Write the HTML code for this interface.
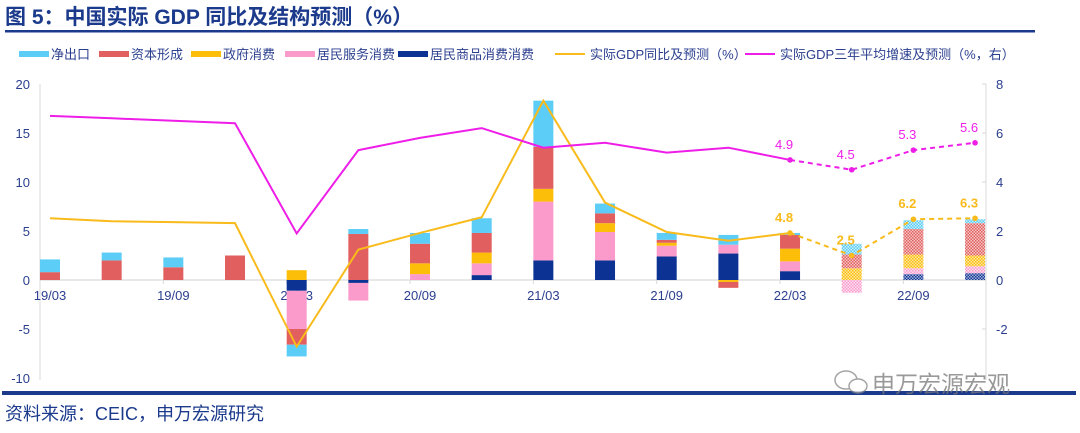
<!DOCTYPE html>
<html><head><meta charset="utf-8">
<style>
body{margin:0;background:#fff;width:1080px;height:433px;overflow:hidden;font-family:"Liberation Sans","Noto Sans CJK SC",sans-serif}
svg{display:block}
</style></head>
<body>
<svg id="chart" width="1080" height="433" xmlns="http://www.w3.org/2000/svg" font-family="Liberation Sans, Noto Sans CJK SC, sans-serif">
<defs>
<pattern id="h-cyan" width="3" height="3" patternUnits="userSpaceOnUse"><rect width="3" height="3" fill="#c8eefc"/><rect width="1.5" height="1.5" fill="#5ccdf5"/><rect x="1.5" y="1.5" width="1.5" height="1.5" fill="#5ccdf5"/></pattern>
<pattern id="h-red" width="3" height="3" patternUnits="userSpaceOnUse"><rect width="3" height="3" fill="#f6c6c6"/><rect width="1.5" height="1.5" fill="#e06060"/><rect x="1.5" y="1.5" width="1.5" height="1.5" fill="#e06060"/></pattern>
<pattern id="h-yellow" width="3" height="3" patternUnits="userSpaceOnUse"><rect width="3" height="3" fill="#fde7a0"/><rect width="1.5" height="1.5" fill="#fbbf10"/><rect x="1.5" y="1.5" width="1.5" height="1.5" fill="#fbbf10"/></pattern>
<pattern id="h-pink" width="3" height="3" patternUnits="userSpaceOnUse"><rect width="3" height="3" fill="#fde0ef"/><rect width="1.5" height="1.5" fill="#f99ccc"/><rect x="1.5" y="1.5" width="1.5" height="1.5" fill="#f99ccc"/></pattern>
<pattern id="h-navy" width="3" height="3" patternUnits="userSpaceOnUse"><rect width="3" height="3" fill="#9fb0d8"/><rect width="1.5" height="1.5" fill="#1a3a94"/><rect x="1.5" y="1.5" width="1.5" height="1.5" fill="#1a3a94"/></pattern>
</defs>
<text x="5" y="24" font-size="21" font-weight="bold" fill="#1b3a8c">图 5：中国实际 GDP 同比及结构预测（%）</text>
<rect x="5" y="30" width="1030" height="2.5" fill="#1b3a8c"/>
<g id="legend" font-size="13" fill="#2b3f8f"></g>
<g id="axes"></g>
<g id="bars"></g>
<g id="lines"></g>
<rect x="2" y="391" width="1074" height="4" fill="#1b3a8c"/>
<g opacity="0.75">
<ellipse cx="846" cy="380" rx="11" ry="9" fill="none" stroke="#888" stroke-width="1.5"/>
<ellipse cx="858" cy="386" rx="9" ry="7" fill="#fff" stroke="#888" stroke-width="1.5"/>
<text x="872" y="392" font-size="23" fill="#777">申万宏源宏观</text>
</g>
<text x="5" y="420" font-size="18" fill="#1b3a8c">资料来源：CEIC，申万宏源研究</text>
</svg>
<script>
const categories=["19/03","19/06","19/09","19/12","20/03","20/06","20/09","20/12","21/03","21/06","21/09","21/12","22/03","22/06","22/09","22/12"];
const tickCats=["19/03","19/09","20/03","20/09","21/03","21/09","22/03","22/09"];
const navy  =[0,0,0,0,-1.1,-0.3,0,0.5,2.0,2.0,2.4,2.7,0.9,0,0.6,0.7];
const pink  =[0,0,0,0,-3.9,-1.8,0.6,1.2,6.0,2.9,1.1,0.9,1.0,-1.3,0.6,0.7];
const gov   =[0,0,0,0,1.0,0,1.1,1.1,1.3,0.9,0.3,-0.2,1.3,1.2,1.4,1.1];
const capital=[0.8,2.0,1.3,2.5,-1.6,4.7,2.0,2.0,4.3,1.0,0.3,-0.6,1.4,1.4,2.6,3.3];
const netExport=[1.3,0.8,1.0,0,-1.2,0.5,1.1,1.5,4.7,1.0,0.7,1.0,0.2,1.1,0.9,0.4];
const gdpYoy=[6.3,6.0,5.9,5.8,-6.8,3.1,4.8,6.4,18.3,7.9,4.9,4.0,4.8,2.5,6.2,6.3];
const gdp3y=[6.7,6.6,6.5,6.4,1.9,5.3,5.8,6.2,5.4,5.6,5.2,5.4,4.9,4.5,5.3,5.6];
const leftTicks=[20,15,10,5,0,-5,-10];
const rightTicks=[8,6,4,2,0,-2];
const forecastStart=12;
const hatchStart=13;

const NS="http://www.w3.org/2000/svg";
const X0=50,STEP=61.67,BW=20;
const yL=v=>280-v*9.8;
const yR=v=>280-v*24.5;
const xC=i=>X0+i*STEP;
function mk(tag,attrs,parent){const e=document.createElementNS(NS,tag);for(const k in attrs)e.setAttribute(k,attrs[k]);parent.appendChild(e);return e;}
const axes=document.getElementById('axes'),bars=document.getElementById('bars'),lines=document.getElementById('lines'),legend=document.getElementById('legend');

let a=mk('line',{x1:40,y1:84,x2:40,y2:380,stroke:'#d9d9d9'},axes);

a=mk('line',{x1:986,y1:84,x2:986,y2:380,stroke:'#d9d9d9'},axes);

leftTicks.forEach(v=>{const t=mk('text',{x:30,y:yL(v)+5,'font-size':13,fill:'#2b3f8f','text-anchor':'end'},axes);t.textContent=v;
});
rightTicks.forEach(v=>{mk('line',{x1:982,y1:yR(v),x2:986,y2:yR(v),stroke:'#d9d9d9'},axes);const t=mk('text',{x:996,y:yR(v)+5,'font-size':13,fill:'#2b3f8f'},axes);t.textContent=v;
});
tickCats.forEach(c=>{const i=categories.indexOf(c);mk('line',{x1:xC(i)-10,y1:280,x2:xC(i)-10,y2:284,stroke:'#d9d9d9'},axes);const t=mk('text',{x:xC(i),y:300,'font-size':13,fill:'#2b3f8f','text-anchor':'middle'},axes);t.textContent=c;
});

const series=[[navy,'#0c3394','navy','goods-consumption'],[pink,'#fb9bcb','pink','services-consumption'],[gov,'#fdbe0a','yellow','government-consumption'],[capital,'#e15f5f','red','capital-formation'],[netExport,'#5ccdf6','cyan','net-exports']];
categories.forEach((c,i)=>{let pos=0,neg=0;series.forEach(([arr,col,h,name])=>{const v=arr[i];if(!v)return;let y0,y1;
 if(v>0){y0=pos;y1=pos+v;pos=y1;}else{y0=neg;y1=neg+v;neg=y1;}
 const top=yL(Math.max(y0,y1)),bot=yL(Math.min(y0,y1));
 const r=mk('rect',{x:xC(i)-BW/2,y:top,width:BW,height:bot-top,fill:i>=hatchStart?'url(#h-'+h+')':col},bars);
 
 });});
a=mk('line',{x1:40,y1:280,x2:986,y2:280,stroke:'#d9d9d9','stroke-width':1.2},axes);


function drawLine(arr,sc,col,name){
 const pts=arr.map((v,i)=>[xC(i),sc(v)]);
 const solid=pts.slice(0,forecastStart+1).map(p=>p.join(',')).join(' ');
 const dash=pts.slice(forecastStart).map(p=>p.join(',')).join(' ');
 let l=mk('polyline',{points:solid,fill:'none',stroke:col,'stroke-width':2},lines);
 
 l=mk('polyline',{points:dash,fill:'none',stroke:col,'stroke-width':2,'stroke-dasharray':'5,4'},lines);
 
 for(let i=forecastStart;i<arr.length;i++){const d=mk('circle',{cx:pts[i][0],cy:pts[i][1],r:2.8,fill:col},lines);
  
  const t=mk('text',{x:pts[i][0]-6,y:pts[i][1]-11,'font-size':13,fill:col,'text-anchor':'middle','font-weight':name==='gdp-yoy'?'bold':'normal'},lines);t.textContent=arr[i].toFixed(1);
  }
}
drawLine(gdpYoy,yL,'#f8bb1b','gdp-yoy');
drawLine(gdp3y,yR,'#ee1ee8','gdp-3yr-avg');

const leg=[['rect','#5ccdf6','净出口',14],['rect','#e15f5f','资本形成',94],['rect','#fdbe0a','政府消费',186],['rect','#fb9bcb','居民服务消费',280],['rect','#0c3394','居民商品消费消费',393],['line','#f8bb1b','实际GDP同比及预测（%）',553],['line','#ee1ee8','实际GDP三年平均增速及预测（%，右）',743]];
leg.forEach(([k,col,lab,x])=>{const g=mk('g',{},legend);
 if(k==='rect')mk('rect',{x:x+5,y:51,width:30,height:6,fill:col},g);else mk('rect',{x:x+2,y:53,width:30,height:2,fill:col},g);
 const t=mk('text',{x:x+37,y:59,'font-size':13,fill:'#2b3f8f'},g);t.textContent=lab;});
</script>
</body></html>
